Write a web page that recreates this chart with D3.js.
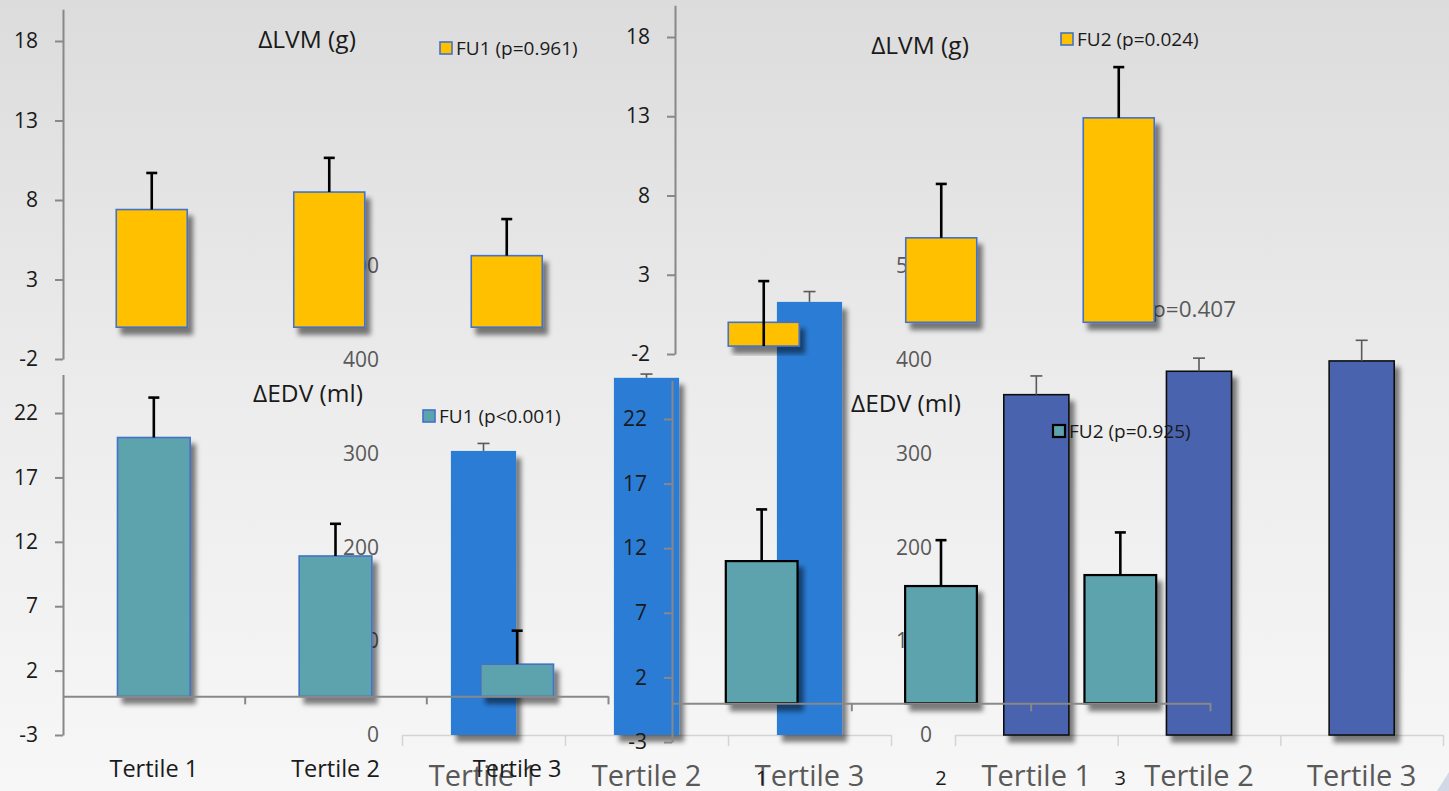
<!DOCTYPE html>
<html><head><meta charset="utf-8">
<script src="https://cdn.jsdelivr.net/npm/d3@7"></script>
<style>
html,body{margin:0;padding:0;overflow:hidden;background:#eee;}
svg{display:block;font-family:"Open Sans","Noto Sans",sans-serif;}
</style></head>
<body>
<svg id="c" width="1449" height="791"></svg>
<script>
// ---------- data ----------
const tertiles = ["Tertile 1", "Tertile 2", "Tertile 3"];
const tertileNums = ["1", "2", "3"];

// front panels
const lvmFU1 = [7.4, 8.5, 4.5];
const lvmFU1Err = [2.3, 2.15, 2.3];
const lvmFU2 = [-1.5, 5.33, 12.9];
const lvmFU2Err = [4.1, 3.4, 3.2];
const edvFU1 = [20.1, 10.9, 2.5];
const edvFU1Err = [3.1, 2.5, 2.6];
const edvFU2 = [11.0, 9.07, 9.92];
const edvFU2Err = [4.0, 3.55, 3.3];

const lvmTicks = [-2, 3, 8, 13, 18];
const edvTicks = [-3, 2, 7, 12, 17, 22];

// background panels (partly hidden)
const backA = [303, 381, 462];
const backAErr = [8, 4, 11];
const backB = [363, 388, 399];
const backBErr = [20, 14, 22];
const backTicks = [0, 100, 200, 300, 400, 500];

const legendLvm1 = "FU1 (p=0.961)";
const legendLvm2 = "FU2 (p=0.024)";
const legendEdv1 = "FU1 (p<0.001)";
const legendEdv2 = "FU2 (p=0.925)";
const pBack = "p=0.407";

// ---------- drawing ----------
const svg = d3.select("#c");
const defs = svg.append("defs");
const grad = defs.append("linearGradient").attr("id", "bg").attr("x1", 0).attr("y1", 0).attr("x2", 0).attr("y2", 1);
grad.append("stop").attr("offset", "0%").attr("stop-color", "#dcdcdc");
grad.append("stop").attr("offset", "50%").attr("stop-color", "#ececec");
grad.append("stop").attr("offset", "100%").attr("stop-color", "#f7f7f7");
svg.append("rect").attr("width", 1449).attr("height", 791).attr("fill", "url(#bg)");

const f = defs.append("filter").attr("id", "sh").attr("x", "-30%").attr("y", "-30%").attr("width", "170%").attr("height", "170%");
f.append("feGaussianBlur").attr("in", "SourceAlpha").attr("stdDeviation", 2.5).attr("result", "b");
f.append("feOffset").attr("in", "b").attr("dx", 5).attr("dy", 7).attr("result", "o");
const ct = f.append("feComponentTransfer").attr("in", "o").attr("result", "s");
ct.append("feFuncA").attr("type", "linear").attr("slope", 0.5);
const fm = f.append("feMerge");
fm.append("feMergeNode").attr("in", "s");
fm.append("feMergeNode").attr("in", "SourceGraphic");

const plain = d => String(d);

function bars(g, x, y, vals, errs, o) {
  g.selectAll(null).data(vals).enter().append("rect")
    .attr("x", (d, i) => x(o.cats[i]))
    .attr("width", x.bandwidth())
    .attr("y", d => Math.min(y(d), y(0)))
    .attr("height", d => Math.abs(y(d) - y(0)))
    .attr("fill", o.fill)
    .attr("stroke", o.stroke || "none")
    .attr("stroke-width", o.strokeW || 0)
    .attr("filter", "url(#sh)");
  const eg = g.append("g").attr("stroke", o.errColor).attr("stroke-width", o.errW);
  vals.forEach((v, i) => {
    const cx = x(o.cats[i]) + x.bandwidth() / 2;
    eg.append("line").attr("x1", cx).attr("x2", cx).attr("y1", y(v)).attr("y2", y(v + errs[i]));
    eg.append("line").attr("x1", cx - o.cap).attr("x2", cx + o.cap).attr("y1", y(v + errs[i])).attr("y2", y(v + errs[i]));
  });
}

// ----- background panels -----
function backPanel(xr, labelX, vals, errs, fill, stroke, showP) {
  const g = svg.append("g");
  const y = d3.scaleLinear().domain([0, 500]).range([735, 266.25]);
  const x = d3.scaleBand().domain(tertiles).range(xr).paddingInner(0.6).paddingOuter(0.3);
  const ya = g.append("g").attr("transform", `translate(${labelX},0)`)
    .call(d3.axisLeft(y).tickValues(backTicks).tickSize(0).tickPadding(0).tickFormat(plain));
  ya.select(".domain").remove();
  ya.selectAll("text").attr("font-size", 21).attr("fill", "#595959").attr("font-family", "Open Sans");
  const xl = d3.scaleLinear().domain([0, 3]).range(xr);
  const xa = g.append("g").attr("transform", "translate(0,735)")
    .call(d3.axisBottom(xl).tickValues([0, 1, 2, 3]).tickSize(11).tickSizeOuter(0).tickFormat(""));
  xa.selectAll("path,line").attr("stroke", "#d4d4d4").attr("stroke-width", 1.5);
  bars(g, x, y, vals, errs, {cats: tertiles, fill: fill, stroke: stroke, strokeW: stroke ? 1.6 : 0, errColor: "#595959", errW: 1.6, cap: 6});
  g.selectAll(null).data(tertiles).enter().append("text")
    .attr("x", d => x(d) + x.bandwidth() / 2).attr("y", 786)
    .attr("text-anchor", "middle").attr("font-size", 29).attr("fill", "#595959").text(d => d);
  if (showP) {
    g.append("text").attr("x", 1152).attr("y", 317).attr("font-size", 22.5).attr("fill", "#595959").text(pBack);
  }
}
backPanel([402, 891], 379, backA, backAErr, "#2b7cd5", null, false);
backPanel([955, 1443], 932, backB, backBErr, "#4a64ae", "#111", true);

// ----- front panels -----
function frontPanel(o) {
  const g = svg.append("g");
  const y = d3.scaleLinear().domain(o.yDomain).range(o.yRange);
  const x = d3.scaleBand().domain(tertiles).range(o.xRange).paddingInner(0.6).paddingOuter(0.3);
  const ya = g.append("g").attr("transform", `translate(${o.xRange[0]},0)`)
    .call(d3.axisLeft(y).tickValues(o.ticks).tickSize(8).tickSizeOuter(0).tickPadding(o.pad).tickFormat(plain));
  ya.selectAll("path,line").attr("stroke", "#888").attr("stroke-width", 2);
  ya.selectAll("text").attr("font-size", 21).attr("fill", "#1a1a1a").attr("font-family", "Open Sans");
  bars(g, x, y, o.vals, o.errs, {cats: tertiles, fill: o.fill, stroke: o.stroke, strokeW: o.strokeW, errColor: "#000", errW: 2.6, cap: 5.5});
  if (o.xAxis) {
    const xl = d3.scaleLinear().domain([0, 3]).range(o.xRange);
    const xa = g.append("g").attr("transform", `translate(0,${y(0)})`)
      .call(d3.axisBottom(xl).tickValues([1, 2, 3]).tickSize(8).tickSizeOuter(0).tickFormat(""));
    xa.selectAll("path,line").attr("stroke", "#888").attr("stroke-width", 2);
  }
  if (o.xLabels) {
    g.selectAll(null).data(tertiles).enter().append("text")
      .attr("x", (d, i) => x(d) + x.bandwidth() / 2).attr("y", o.xLabelY)
      .attr("text-anchor", "middle").attr("font-size", o.xLabelSize).attr("fill", "#1a1a1a")
      .text((d, i) => o.xLabels[i]);
  }
  g.append("text").attr("x", o.title[1]).attr("y", o.title[2]).attr("text-anchor", "middle")
    .attr("font-size", 24.5).attr("fill", "#1a1a1a").text(o.title[0]);
  g.append("rect").attr("x", o.legend[1]).attr("y", o.legend[2]).attr("width", 12).attr("height", 12)
    .attr("fill", o.fill).attr("stroke", o.stroke).attr("stroke-width", o.strokeW);
  g.append("text").attr("x", o.legend[1] + 16).attr("y", o.legend[2] + 12.5)
    .attr("font-size", 19).attr("fill", "#1a1a1a").text(o.legend[0]);
}

frontPanel({xRange: [63, 595.5], yDomain: [-2, 20], yRange: [359, 9.2], ticks: lvmTicks, pad: 17,
  vals: lvmFU1, errs: lvmFU1Err, fill: "#ffc000", stroke: "#4472c4", strokeW: 1.6,
  title: ["ΔLVM (g)", 307, 48], legend: [legendLvm1, 440, 42]});
frontPanel({xRange: [675, 1207.5], yDomain: [-2, 20], yRange: [354, 5.3], ticks: lvmTicks, pad: 17,
  vals: lvmFU2, errs: lvmFU2Err, fill: "#ffc000", stroke: "#4472c4", strokeW: 1.6,
  title: ["ΔLVM (g)", 920, 54], legend: [legendLvm2, 1061, 33]});
frontPanel({xRange: [63, 608], yDomain: [-3, 25], yRange: [735, 374.4], ticks: edvTicks, pad: 17,
  vals: edvFU1, errs: edvFU1Err, fill: "#5ba3ae", stroke: "#4472c4", strokeW: 1.6, xAxis: true,
  xLabels: tertiles, xLabelY: 777, xLabelSize: 23.5,
  title: ["ΔEDV (ml)", 308, 402], legend: [legendEdv1, 423, 410]});
frontPanel({xRange: [672, 1210], yDomain: [-3, 25], yRange: [742, 380.2], ticks: edvTicks, pad: 17,
  vals: edvFU2, errs: edvFU2Err, fill: "#5ba3ae", stroke: "#000", strokeW: 2.2, xAxis: true,
  xLabels: tertileNums, xLabelY: 785, xLabelSize: 20,
  title: ["ΔEDV (ml)", 906, 412], legend: [legendEdv2, 1053, 425]});

// corner handle
svg.append("path").attr("d", "M1449,772 L1449,791 L1437,791 Z").attr("fill", "#c9d0e2").attr("opacity", 0.8);
</script>
</body></html>
